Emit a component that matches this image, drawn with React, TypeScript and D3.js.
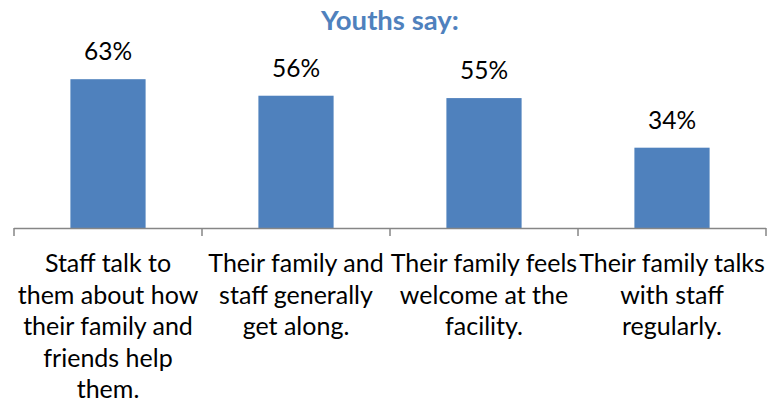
import React from "react";
import * as d3 from "d3";

const categories = ["c1", "c2", "c3", "c4"];
const categoryLines = [
  ["Staff talk to", "them about how", "their family and", "friends help", "them."],
  ["Their family and", "staff generally", "get along."],
  ["Their family feels", "welcome at the", "facility."],
  ["Their family talks", "with staff", "regularly."],
];
const values = [63, 56, 55, 34];
const title = "Youths say:";

const W = 776;
const H = 405;
const FONT = "Lato, 'Open Sans', sans-serif";

export default function App() {
  const x = d3.scaleBand<string>().domain(categories).range([14, 766]).paddingInner(0.6).paddingOuter(0.3);
  const y = d3.scaleLinear().domain([0, 70]).range([228, 228 - 70 * 2.362]);
  const step = x.step();
  const bounds = categories.map((_, i) => 14 + i * step).concat([766]);
  return (
    <svg width={W} height={H} style={{ position: "absolute", left: 0, top: 0, background: "#fff" }}>
      <text x={390} y={30} textAnchor="middle" fontFamily={FONT} fontWeight="bold" fontSize={27.5} fill="#4F81BD">
        {title}
      </text>
      {values.map((v, i) => (
        <g key={i}>
          <rect
            x={x(categories[i])!}
            y={y(v)}
            width={x.bandwidth()}
            height={y(0) - y(v)}
            fill="#4F81BD"
          />
          <text
            x={x(categories[i])! + x.bandwidth() / 2}
            y={y(v) - 19}
            textAnchor="middle"
            fontFamily={FONT}
            fontSize={24.5}
            fill="#000"
          >
            {v}%
          </text>
        </g>
      ))}
      <line x1={14} x2={766} y1={228.5} y2={228.5} stroke="#868686" strokeWidth={1.5} />
      {bounds.map((b, i) => (
        <line key={i} x1={b} x2={b} y1={228} y2={236} stroke="#868686" strokeWidth={1.5} />
      ))}
      {categoryLines.map((lines, i) => (
        <text
          key={i}
          textAnchor="middle"
          fontFamily={FONT}
          fontSize={25}
          fill="#000"
        >
          {lines.map((l, j) => (
            <tspan key={j} x={x(categories[i])! + x.bandwidth() / 2} y={272 + j * 31.5}>
              {l}
            </tspan>
          ))}
        </text>
      ))}
    </svg>
  );
}
